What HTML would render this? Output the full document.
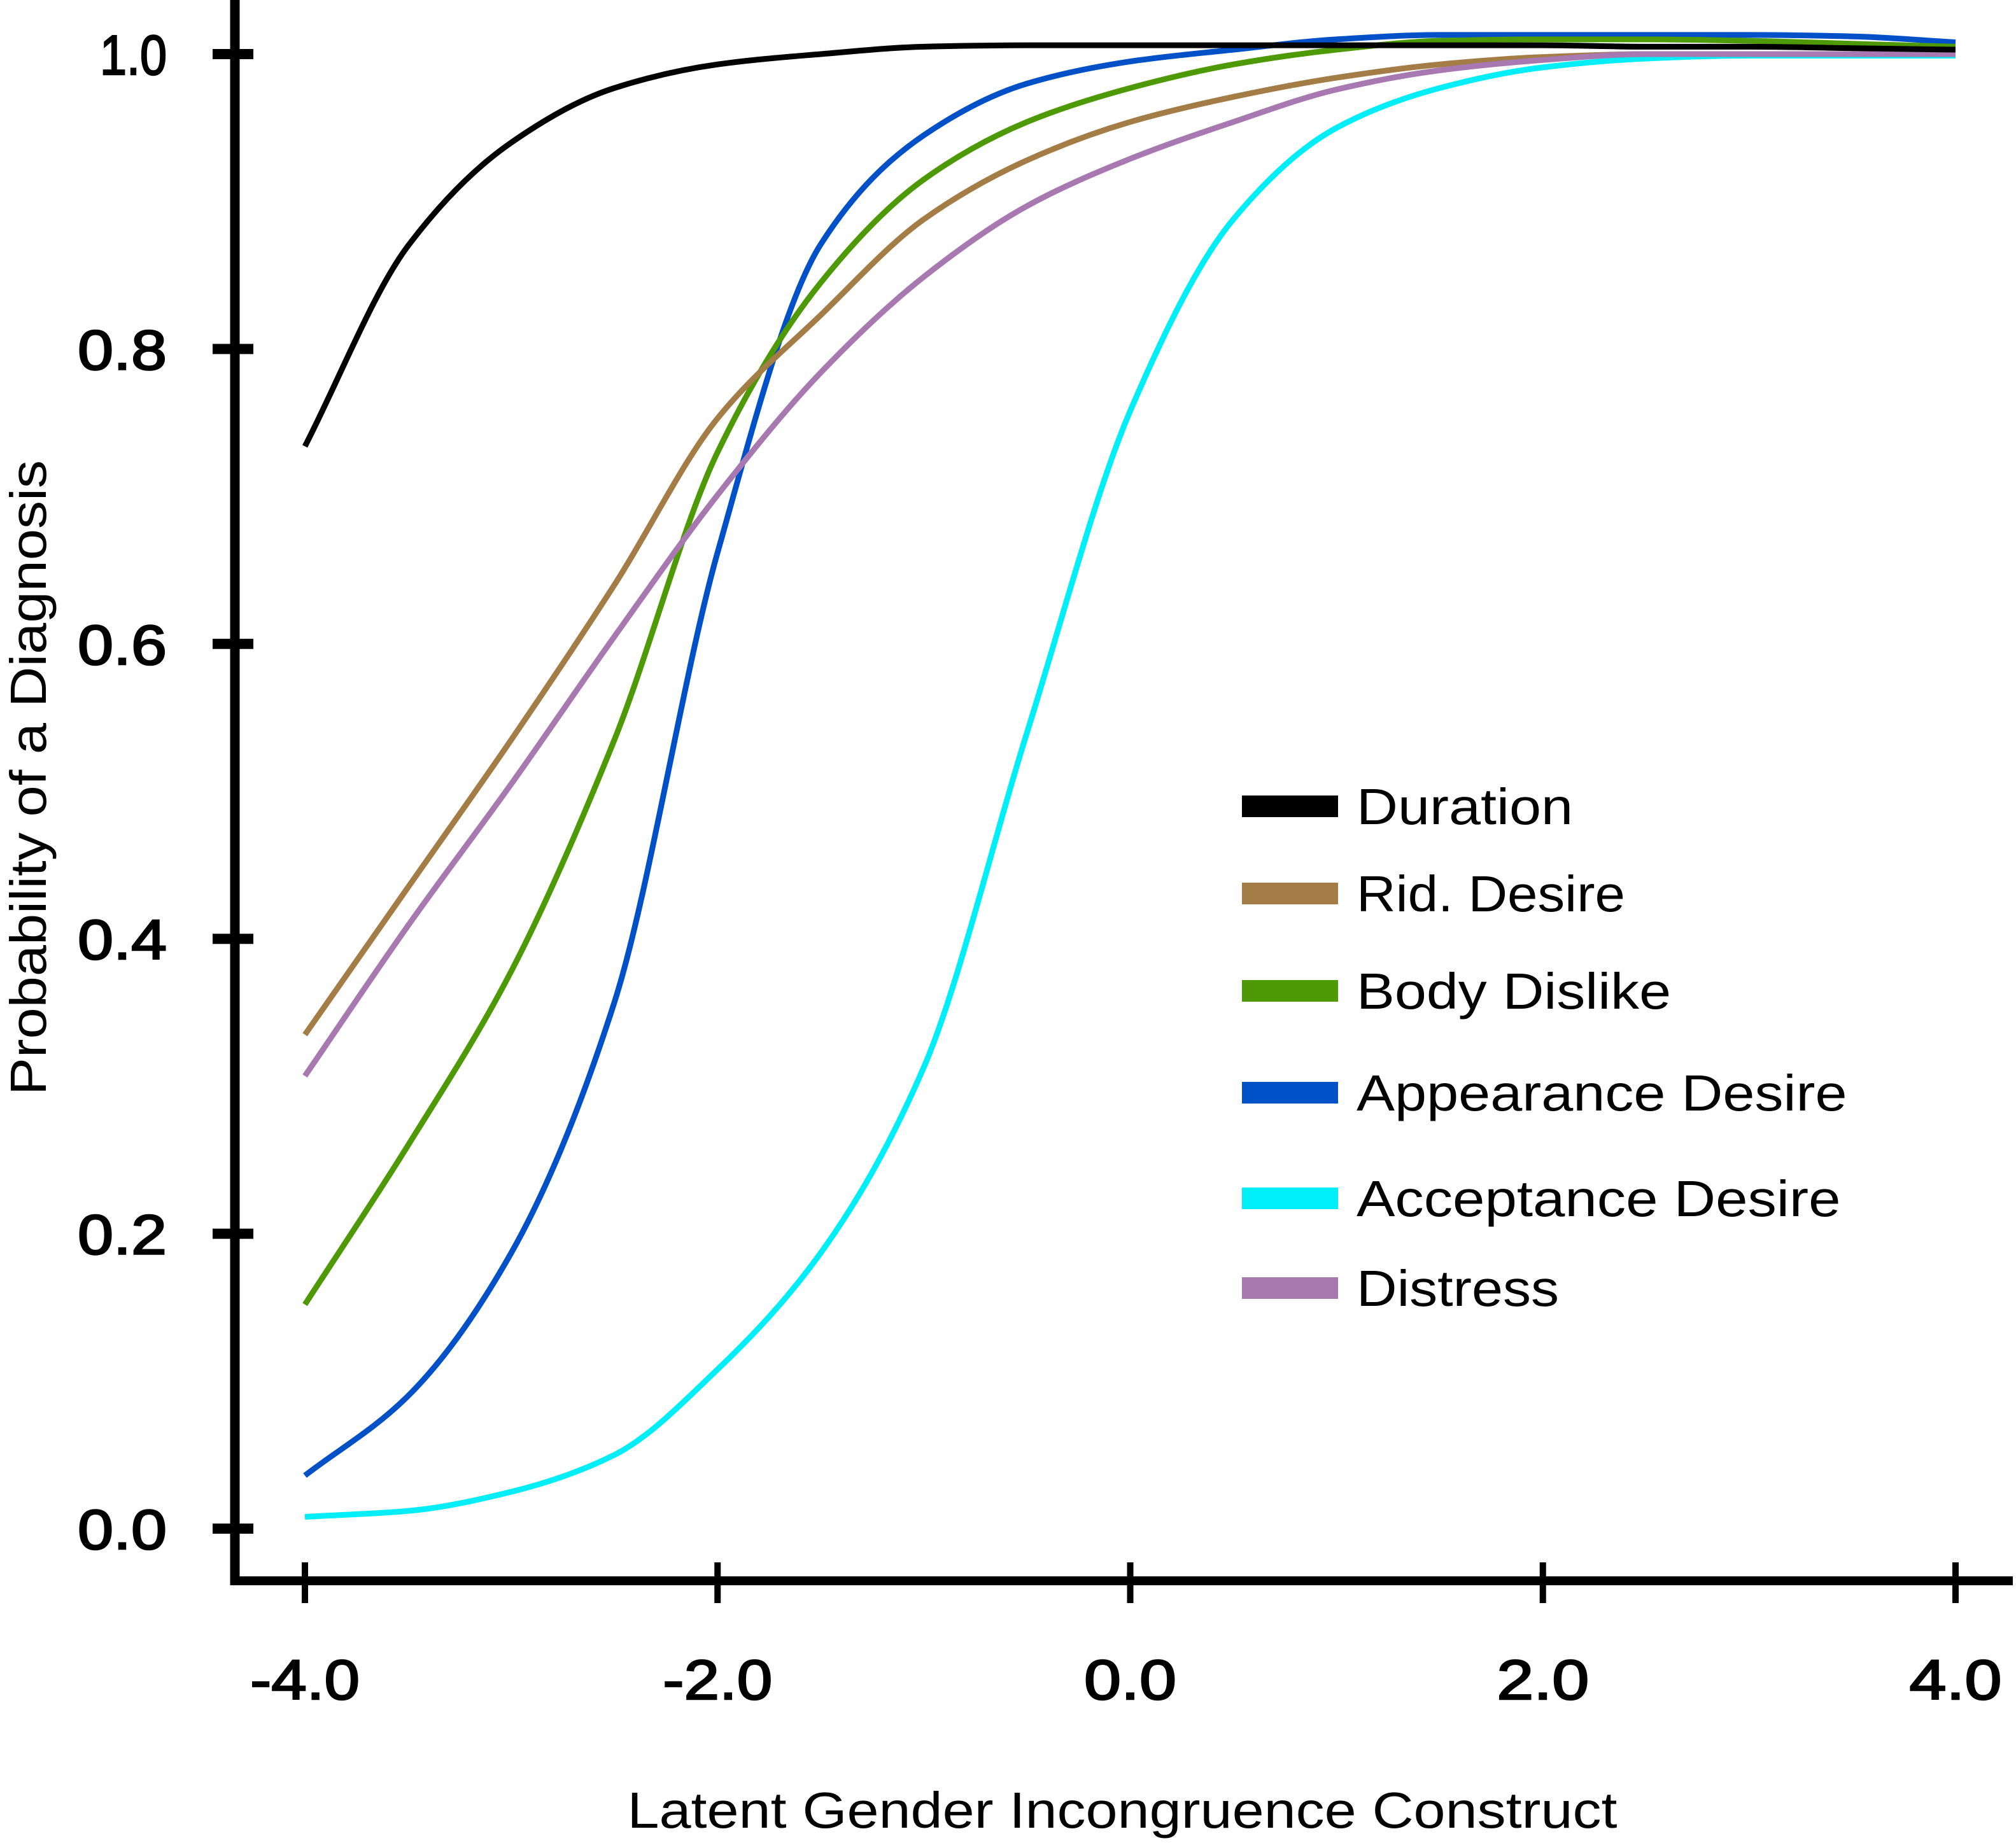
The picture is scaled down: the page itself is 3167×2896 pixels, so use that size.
<!DOCTYPE html>
<html><head><meta charset="utf-8"><style>
html,body{margin:0;padding:0;background:#fff;}
svg{display:block;}
text{font-family:"Liberation Sans",sans-serif;fill:#000;}
</style></head><body>
<svg id="chart" width="3167" height="2896" viewBox="0 0 3167 2896" xmlns="http://www.w3.org/2000/svg">
<g id="curves"></g>
<g id="axes"></g>
<g id="legend"></g>
</svg>
<script>
const xs = [-4,-3.5,-3,-2.5,-2,-1.5,-1,-0.5,0,0.5,1,1.5,2,2.5,3,3.5,4];
const durationVals = [0.734,0.87,0.94,0.977,0.993,1.0,1.005,1.006,1.006,1.006,1.006,1.006,1.006,1.005,1.005,1.004,1.003];
const ridVals = [0.335,0.435,0.535,0.64,0.753,0.823,0.888,0.928,0.954,0.971,0.984,0.993,0.998,1.0,1.0,1.0,1.0];
const bodyVals = [0.152,0.26,0.378,0.535,0.73,0.845,0.915,0.954,0.977,0.993,1.003,1.009,1.01,1.01,1.009,1.007,1.005];
const appearVals = [0.036,0.09,0.187,0.357,0.662,0.871,0.945,0.98,0.995,1.003,1.01,1.013,1.013,1.013,1.013,1.012,1.008];
const acceptVals = [0.008,0.012,0.025,0.05,0.108,0.187,0.313,0.54,0.758,0.888,0.95,0.977,0.991,0.997,0.999,0.999,0.999];
const distressVals = [0.307,0.409,0.505,0.605,0.701,0.784,0.849,0.897,0.929,0.954,0.976,0.989,0.996,1.0,1.0,1.0,1.0];
const seriesNames = ["Duration","Rid. Desire","Body Dislike","Appearance Desire","Acceptance Desire","Distress"];
const seriesColors = ["#000000","#a47c45","#4e9a06","#0050c8","#00eef8","#a878b0"];
const yTicks = [0,0.2,0.4,0.6,0.8,1.0];
const yTickLabels = ["0.0","0.2","0.4","0.6","0.8","1.0"];
const xTicks = [-4,-2,0,2,4];
const xTickLabels = ["-4.0","-2.0","0.0","2.0","4.0"];

const NS="http://www.w3.org/2000/svg";
function X(v){return 479+(v+4)*(3072-479)/8;}
function Y(p){return 2402-p*(2402-85);}
function mk(tag,attrs,parent){const e=document.createElementNS(NS,tag);for(const k in attrs)e.setAttribute(k,attrs[k]);parent.appendChild(e);return e;}

function monotonePath(px,py){
  const n=px.length,dx=[],s=[],m=new Array(n);
  for(let i=0;i<n-1;i++){dx[i]=px[i+1]-px[i];s[i]=(py[i+1]-py[i])/dx[i];}
  m[0]=s[0];m[n-1]=s[n-2];
  for(let i=1;i<n-1;i++){
    if(s[i-1]*s[i]<=0)m[i]=0;
    else m[i]=3*(dx[i-1]+dx[i])/((2*dx[i]+dx[i-1])/s[i-1]+(dx[i]+2*dx[i-1])/s[i]);
  }
  let d="M"+px[0]+","+py[0];
  for(let i=0;i<n-1;i++){
    const h=dx[i]/3;
    d+=" C"+(px[i]+h)+","+(py[i]+m[i]*h)+" "+(px[i+1]-h)+","+(py[i+1]-m[i+1]*h)+" "+px[i+1]+","+py[i+1];
  }
  return d;
}

const allVals=[durationVals,ridVals,bodyVals,appearVals,acceptVals,distressVals];
const curves=document.getElementById('curves');
const order=[4,3,2,1,5,0];
order.forEach(i=>{
  const d=monotonePath(xs.map(X),allVals[i].map(Y));
  const path=mk('path',{d:d,fill:'none',stroke:seriesColors[i],'stroke-width':9},curves);
  
  
});

const axes=document.getElementById('axes');
const yAxis=mk('line',{x1:369,y1:0,x2:369,y2:2491,stroke:'#000','stroke-width':15},axes);


const xAxis=mk('line',{x1:362,y1:2484,x2:3162,y2:2484,stroke:'#000','stroke-width':14},axes);


yTicks.forEach((t,i)=>{
  const tk=mk('line',{x1:334,y1:Y(t),x2:398,y2:Y(t),stroke:'#000','stroke-width':16},axes);
  
  
  const lb=mk('text',{x:262,y:Y(t)+32,'text-anchor':'end','font-size':88,stroke:'#000','stroke-width':2.5,textLength:i===5?105:140,lengthAdjust:'spacingAndGlyphs'},axes);
  lb.textContent=yTickLabels[i];
  
  
});
xTicks.forEach((t,i)=>{
  const tk=mk('line',{x1:X(t),y1:2455,x2:X(t),y2:2519,stroke:'#000','stroke-width':10},axes);
  
  
  const lb=mk('text',{x:X(t),y:2670,'text-anchor':'middle','font-size':88,stroke:'#000','stroke-width':2.5,textLength:i<2?172:145,lengthAdjust:'spacingAndGlyphs'},axes);
  lb.textContent=xTickLabels[i];
  
  
});
const xt=mk('text',{x:1763,y:2872,'text-anchor':'middle','font-size':80,textLength:1555,lengthAdjust:'spacingAndGlyphs'},axes);
xt.textContent="Latent Gender Incongruence Construct";


const yt=mk('text',{x:0,y:0,'text-anchor':'middle','font-size':80,textLength:998,lengthAdjust:'spacingAndGlyphs',transform:'translate(72,1222) rotate(-90)'},axes);
yt.textContent="Probability of a Diagnosis";



const legend=document.getElementById('legend');
const legendRowY=[1267,1404,1557,1717,1883,2024];
const legendW=[680,844,988,1541,1521,636];
seriesNames.forEach((n,i)=>{
  const g=mk('g',{},legend);
  
  
  const sw=mk('rect',{x:1951,y:legendRowY[i]-17,width:151,height:34,fill:seriesColors[i]},g);
  
  
  const t=mk('text',{x:2131,y:legendRowY[i]+28,'font-size':80,textLength:legendW[i]/2,lengthAdjust:'spacingAndGlyphs'},g);
  t.textContent=n;
  
  
});
</script>
</body></html>
